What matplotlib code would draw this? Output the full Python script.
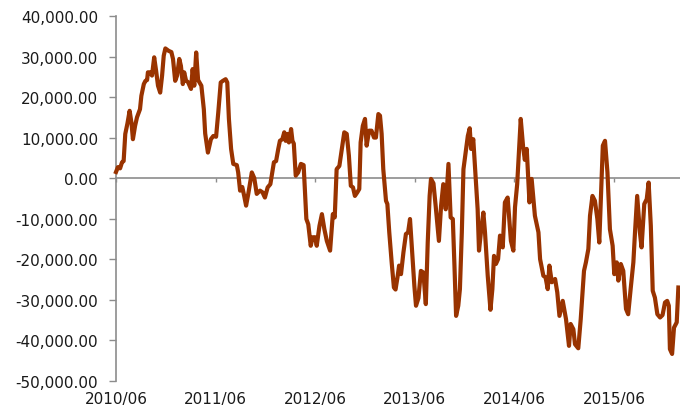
import numpy as np
import matplotlib
matplotlib.use("Agg")
import matplotlib.pyplot as plt
import matplotlib.dates as mdates
from matplotlib.lines import Line2D
from matplotlib.ticker import FuncFormatter
import datetime as dt

start_date = "2010-06-01"
# day offsets from start_date for each observation
day = [0, 7, 15, 22, 28, 34, 42, 50, 57, 62, 70, 77, 88, 93, 102, 108, 114, 117, 125, 132,
       140, 147, 154, 162, 169, 175, 181, 193, 203, 209, 217, 224, 232, 238, 245, 250, 257, 264, 275, 281,
       287, 294, 301, 313, 322, 327, 337, 348, 357, 367, 375, 384, 392, 402, 408, 414, 422, 430, 443, 448,
       455, 463, 470, 477, 485, 498, 507, 516, 528, 537, 546, 556, 566, 573, 579, 587, 595, 601, 610, 617,
       622, 628, 634, 642, 647, 652, 659, 668, 678, 688, 698, 705, 714, 721, 730, 736, 746, 755, 764, 773,
       785, 795, 802, 809, 819, 828, 837, 846, 854, 861, 869, 876, 885, 892, 897, 905, 913, 919, 928, 937,
       946, 953, 962, 968, 974, 980, 990, 995, 1002, 1011, 1019, 1025, 1033, 1038, 1045, 1054, 1063, 1071, 1078, 1087,
       1094, 1100, 1109, 1118, 1127, 1136, 1143, 1150, 1155, 1164, 1172, 1184, 1192, 1200, 1209, 1219, 1227, 1235, 1241, 1247,
       1255, 1261, 1268, 1274, 1282, 1290, 1297, 1302, 1310, 1316, 1326, 1331, 1338, 1347, 1353, 1363, 1373, 1380, 1386, 1393,
       1401, 1408, 1418, 1426, 1436, 1448, 1457, 1463, 1471, 1484, 1493, 1499, 1506, 1516, 1524, 1536, 1549, 1555, 1567, 1575,
       1583, 1589, 1598, 1610, 1618, 1626, 1638, 1650, 1661, 1667, 1677, 1683, 1695, 1704, 1716, 1723, 1732, 1738, 1747, 1756,
       1765, 1772, 1785, 1793, 1802, 1811, 1821, 1827, 1836, 1842, 1851, 1860, 1870, 1878, 1887, 1897, 1903, 1911, 1921, 1927,
       1937, 1946, 1953, 1961, 1968, 1976, 1985, 1995, 2004, 2013, 2021, 2027, 2031, 2039, 2046, 2056, 2062]
# values in thousands
value_k = [1.5, 2.7, 2.4, 3.9, 4.2, 10.9, 13.5, 16.6, 13.5, 9.6, 12.9, 15.0, 17.0, 20.3, 23.2, 24.0, 24.2, 26.1, 26.1, 25.3,
           29.8, 26.5, 22.8, 21.1, 25.3, 30.2, 32.0, 31.4, 31.1, 29.4, 24.0, 25.3, 29.4, 27.7, 23.2, 26.1, 24.0, 23.7, 22.0, 26.9,
           22.8, 31.0, 24.2, 22.8, 17.0, 11.0, 6.3, 9.6, 10.4, 10.2, 16.2, 23.6, 24.0, 24.4, 23.6, 14.6, 7.2, 3.5, 3.2, 1.4,
           -3.1, -2.2, -4.4, -6.8, -3.9, 1.4, 0.0, -3.9, -3.1, -3.5, -4.8, -2.3, -1.5, 1.4, 3.9, 4.2, 7.2, 9.2, 9.6, 11.3,
           9.2, 10.9, 8.8, 12.1, 9.2, 8.5, 0.6, 1.4, 3.5, 3.2, -10.1, -11.4, -16.7, -14.6, -14.6, -16.7, -11.8, -8.9, -12.6, -15.5,
           -17.9, -8.9, -9.7, 2.2, 3.0, 7.2, 11.3, 10.9, 5.5, -1.9, -2.3, -4.4, -3.5, -2.7, 8.8, 12.9, 14.6, 8.0, 11.7, 11.7,
           10.0, 10.0, 15.8, 15.4, 10.9, 2.2, -5.6, -6.4, -13.4, -21.0, -27.0, -27.5, -24.1, -21.6, -23.7, -18.3, -13.8, -13.4, -10.1, -19.2,
           -26.6, -31.5, -29.6, -22.9, -23.3, -31.1, -15.9, -4.4, -0.2, -1.3, -6.8, -15.5, -6.8, -1.5, -7.7, 3.5, -9.7, -10.1, -21.6, -34.0,
           -31.5, -27.4, -13.4, 2.2, 6.3, 10.4, 12.3, 7.2, 9.6, 3.0, -7.7, -17.9, -13.4, -8.5, -13.4, -24.1, -32.5, -27.4, -19.2, -21.2,
           -20.0, -14.2, -17.1, -6.0, -4.8, -15.5, -17.9, -7.2, -1.5, 14.6, 7.5, 4.5, 7.2, -6.0, -0.2, -9.3, -13.4, -20.0, -24.1, -24.5,
           -27.4, -21.6, -25.7, -24.9, -28.2, -34.0, -30.3, -34.8, -41.4, -36.0, -37.3, -41.0, -42.0, -34.8, -22.9, -20.8, -17.5, -9.3, -4.4, -5.6,
           -10.1, -15.9, 8.0, 9.2, 1.4, -12.6, -16.7, -23.7, -20.8, -25.3, -21.2, -22.9, -32.3, -33.6, -27.4, -20.8, -13.4, -4.4, -13.4, -17.1,
           -6.4, -5.2, -1.1, -11.8, -27.8, -29.5, -33.6, -34.4, -33.8, -30.7, -30.3, -31.5, -42.2, -43.4, -36.9, -35.6, -27.0]
tick_dates = ["2010-06-01", "2011-06-01", "2012-06-01", "2013-06-01", "2014-06-01", "2015-06-01"]
tick_labels = ["2010/06", "2011/06", "2012/06", "2013/06", "2014/06", "2015/06"]
y_ticks = [40000, 30000, 20000, 10000, 0, -10000, -20000, -30000, -40000, -50000]
end_days = 2068

plt.rcParams['font.family'] = ['DejaVu Sans']

t0 = dt.datetime.strptime(start_date, "%Y-%m-%d")
x = [t0 + dt.timedelta(days=d) for d in day]
y = np.array(value_k) * 1000.0

fig = plt.figure(figsize=(6.8, 4.1), dpi=100)
ax = fig.add_axes([116/680, 1 - 381.7/410, 1 - 116/680, (381.7 - 17)/410])

line_color = "#993300"
axis_color = "#8c8c8c"

ax.plot(x, y, color=line_color, lw=3.0, solid_joinstyle="round", clip_on=False, zorder=3)

ax.set_ylim(-50000, 40000)
ax.set_xlim(t0, t0 + dt.timedelta(days=end_days))
ax.set_yticks(y_ticks)
ax.yaxis.set_major_formatter(FuncFormatter(lambda v, p: f"{v:,.2f}"))

tick_x = [dt.datetime.strptime(s, "%Y-%m-%d") for s in tick_dates]
ax.set_xticks(tick_x)
ax.set_xticklabels([])

for s in ["top", "right"]:
    ax.spines[s].set_visible(False)
ax.spines["left"].set_color(axis_color)
ax.spines["left"].set_linewidth(1.2)
ax.spines["bottom"].set_position(("data", 0))
ax.spines["bottom"].set_color(axis_color)
ax.spines["bottom"].set_linewidth(1.2)

ax.tick_params(axis="y", direction="out", length=5, width=1.0, color=axis_color,
               pad=8, labelsize=11, labelcolor="#1a1a1a")
ax.tick_params(axis="x", direction="out", length=3, width=1.0, color=axis_color)

for tx, lab in zip(tick_x, tick_labels):
    ax.text(tx, -0.05, lab, transform=ax.get_xaxis_transform(), ha="center", va="center",
            fontsize=11, color="#1a1a1a", clip_on=False)

fig.add_artist(Line2D([0, 0.99], [0.999, 0.999], transform=fig.transFigure, color="black", lw=1.2))

fig.savefig("out.png", dpi=100)
